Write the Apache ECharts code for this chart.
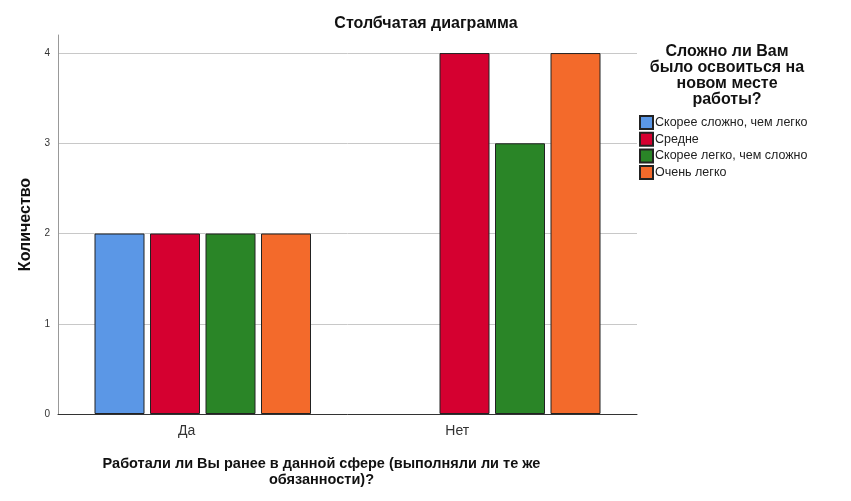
<!DOCTYPE html>
<html>
<head>
<meta charset="utf-8">
<script src="https://cdn.jsdelivr.net/npm/echarts@6/dist/echarts.min.js"></script>
<style>
  html, body { margin: 0; padding: 0; background: #fff; }
  #main { width: 851px; height: 501px; }
</style>
</head>
<body>
<div id="main"></div>
<script>
var categories = ['Да', 'Нет'];
var seriesNames = ['Скорее сложно, чем легко', 'Средне', 'Скорее легко, чем сложно', 'Очень легко'];
var hardVals = [2, null];
var mediumVals = [2, 4];
var easyVals = [2, 3];
var veryEasyVals = [2, 4];
var yTicks = [0, 1, 2, 3, 4];

var colors = ['#5b97e6', '#d50030', '#2a8527', '#f36a2b'];
var values = [hardVals, mediumVals, easyVals, veryEasyVals];

var chart = echarts.init(document.getElementById('main'));

var series = seriesNames.map(function (name, i) {
  return {
    name: name,
    type: 'bar',
    data: values[i].map(function (v) { return v == null ? '-' : v; }),
    barWidth: 50,
    barGap: '11%',
    itemStyle: {
      color: colors[i],
      borderColor: '#222',
      borderWidth: 1
    }
  };
});

var option = {
  animation: false,
  textStyle: { fontFamily: 'Arial, "Liberation Sans", sans-serif' },
  title: [{
    text: 'Столбчатая диаграмма',
    left: 421,
    top: 11,
    textAlign: 'center',
    textStyle: { fontSize: 16, fontWeight: 'bold', color: '#111' }
  }, {
    text: 'Сложно ли Вам\nбыло освоиться на\nновом месте\nработы?',
    left: 722,
    top: 39,
    textAlign: 'center',
    textStyle: { fontSize: 16, fontWeight: 'bold', color: '#111', lineHeight: 16 }
  }],
  legend: {
    orient: 'vertical',
    left: 639,
    top: 115,
    padding: 0,
    itemWidth: 13,
    itemHeight: 13,
    itemGap: 1.7,
    icon: 'rect',
    data: seriesNames,
    textStyle: { fontSize: 12.5, color: '#222', lineHeight: 13, padding: [0, 0, 0, -3] }
  },
  grid: {
    left: 58,
    right: 214,
    top: 35,
    bottom: 87
  },
  xAxis: {
    type: 'category',
    data: categories,
    name: 'Работали ли Вы ранее в данной сфере (выполняли ли те же\nобязанности)?',
    nameLocation: 'middle',
    nameGap: 42,
    nameTextStyle: { fontSize: 14.5, fontWeight: 'bold', color: '#111', lineHeight: 16, padding: [0, 52, 0, 0] },
    axisLine: { lineStyle: { color: '#333', width: 1 } },
    axisTick: { show: false },
    axisLabel: {
      color: '#333',
      margin: 10,
      formatter: function (v, i) { return '{c' + i + '|' + v + '}'; },
      rich: {
        c0: { fontSize: 14, color: '#333', padding: [0, 32, 0, 0] },
        c1: { fontSize: 14, color: '#333', padding: [0, 70, 0, 0] }
      }
    }
  },
  yAxis: {
    type: 'value',
    min: 0,
    max: 4.2,
    interval: 1,
    name: 'Количество',
    nameLocation: 'middle',
    nameGap: 23,
    nameTextStyle: { fontSize: 16, fontWeight: 'bold', color: '#111' },
    axisLine: { show: true, lineStyle: { color: '#999', width: 1 } },
    axisTick: { show: false },
    axisLabel: {
      fontSize: 10,
      color: '#333',
      margin: 8,
      formatter: function (v) { return yTicks.indexOf(v) >= 0 ? String(v) : ''; }
    },
    splitLine: { showMaxLine: false, lineStyle: { color: '#c8c8c8', width: 1 } }
  },
  series: series
};

chart.setOption(option);
</script>
</body>
</html>
